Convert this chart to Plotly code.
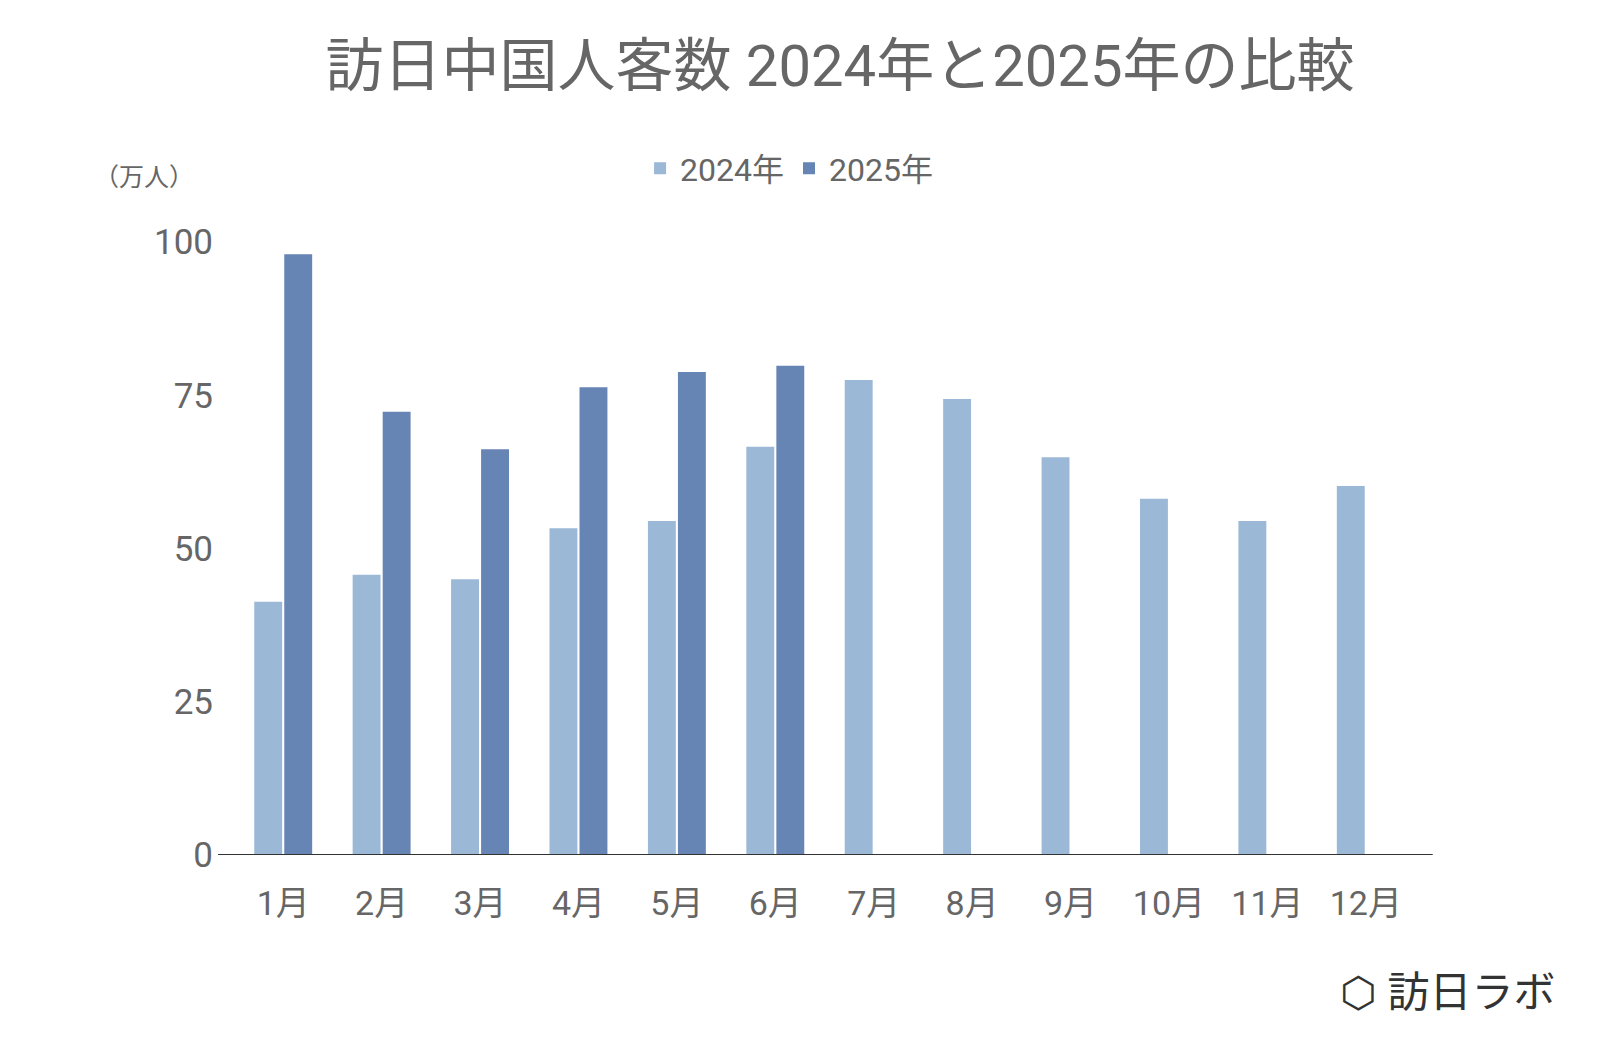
import plotly.graph_objects as go

months = ["1月", "2月", "3月", "4月", "5月", "6月", "7月", "8月", "9月", "10月", "11月", "12月"]
visitors_2024 = [41.3, 45.7, 45.0, 53.3, 54.5, 66.6, 77.5, 74.4, 64.9, 58.1, 54.5, 60.2]
visitors_2025 = [98.0, 72.3, 66.2, 76.3, 78.8, 79.8]
y_ticks = [0, 25, 50, 75, 100]

font = "Roboto, Noto Sans CJK JP"
gray = "#666666"

fig = go.Figure()
fig.add_trace(go.Bar(x=months, y=visitors_2024, name="2024年",
                     marker=dict(color="#9bb8d7", line=dict(width=0))))
fig.add_trace(go.Bar(x=months[:len(visitors_2025)], y=visitors_2025, name="2025年",
                     marker=dict(color="#6685b5", line=dict(width=0))))

fig.update_layout(
    width=1600, height=1040,
    paper_bgcolor="white", plot_bgcolor="white",
    margin=dict(l=226, r=193, t=234, b=193),
    font=dict(family=font, color=gray),
    title=dict(text="訪日中国人客数 2024年と2025年の比較", x=0.52, xanchor="center",
               y=0.945, yanchor="middle", font=dict(size=58, color=gray)),
    barmode="group", bargap=0.39, bargroupgap=0.07,
    showlegend=True,
    legend=dict(orientation="h", x=0.47, xanchor="center", y=1.12, yanchor="middle",
                font=dict(size=32, color=gray), itemsizing="constant"),
    xaxis=dict(showgrid=False, showline=False, ticks="outside", ticklen=18,
               tickcolor="rgba(0,0,0,0)",
               tickfont=dict(size=34, color=gray)),
    yaxis=dict(range=[0, 100], tickvals=y_ticks, showgrid=False, zeroline=False,
               showline=False, ticks="", ticklabelstandoff=20,
               tickfont=dict(size=35, color=gray)),
    shapes=[dict(type="line", xref="paper", yref="y", x0=-0.0135, x1=1.015, y0=0, y1=0,
                 line=dict(color="#333333", width=2))],
    annotations=[
        dict(text="（万人）", xref="paper", yref="paper", x=-0.12, y=1.105,
             xanchor="left", yanchor="middle", showarrow=False,
             font=dict(size=25, color=gray)),
        dict(text="⬡ 訪日ラボ", xref="paper", yref="paper", x=1.12, y=-0.225,
             xanchor="right", yanchor="middle", showarrow=False,
             font=dict(size=42, color="#333333")),
    ],
)

fig.write_html("out.html")
